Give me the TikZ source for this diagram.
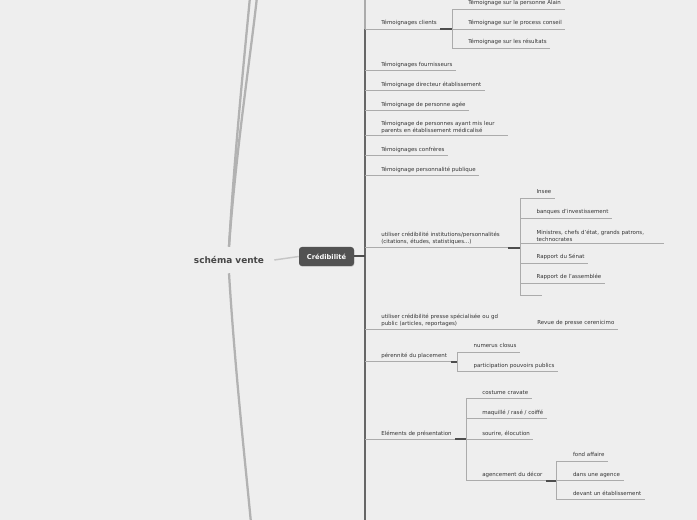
\documentclass[tikz,border=0pt]{standalone}
\usepackage{fontspec}
\setmainfont{DejaVu Sans}
\usetikzlibrary{calc,shadows}
\definecolor{BackClr}{HTML}{EEEEEE}
\definecolor{TextClr}{HTML}{333333}
\definecolor{LineClr}{HTML}{ABABAB}
\definecolor{StubClr}{HTML}{4D4D4D}
\definecolor{SpineClr}{HTML}{666666}
\definecolor{BoxClr}{HTML}{525252}
\definecolor{BranchClr}{HTML}{B2B2B2}
\definecolor{LinkClr}{HTML}{C6C6C6}

\begin{document}
\begin{tikzpicture}[x=0.75pt,y=-0.75pt,
  leaf/.style={anchor=south west,inner xsep=2.5pt,inner ysep=1.9pt,text depth=1.2pt,
    text=TextClr,font=\fontsize{4.1}{5.25}\selectfont},
  wideleaf/.style={anchor=south west,inner xsep=2.5pt,inner ysep=1.9pt,text width=92.5pt,
    align=left,text=TextClr,font=\fontsize{4.1}{5.25}\selectfont},
  uline/.style={LineClr,line width=0.75pt},
  stub/.style={StubClr,line width=1.5pt},
  branch/.style={BranchClr,line width=1.7pt}]

\useasboundingbox (0,0) rectangle (697,520);
\fill[BackClr] (0,0) rectangle (697,520);

\node[text=TextClr!90!white,font=\fontsize{6.7}{8}\bfseries,inner xsep=7.5pt,minimum height=19.5pt] (vente) at (229,260) {schéma vente};
\node[fill=BoxClr,text=white,font=\fontsize{5}{6}\bfseries,rounded corners=2.2pt,
  minimum width=41.25pt,minimum height=14.25pt,
  drop shadow={shadow xshift=0.3pt,shadow yshift=-0.6pt,opacity=0.3}] (cred) at (326.5,256.5) {Crédibilité};

\coordinate (hautA) at (250,-3);
\coordinate (hautB) at (257,-3);
\coordinate (bas) at (251,523);
\draw[branch] (vente.north) .. controls (234,160) and (244,60) .. (hautA);
\draw[branch] (vente.north) .. controls (236,150) and (250,60) .. (hautB);
\draw[branch] (vente.south) .. controls (235,370) and (245,460) .. (bas);
\draw[LinkClr,line width=1.1pt] (vente.east) -- (cred.west);

\node[leaf] (clients) at (377.7,29.3) {Témoignages clients};
\node[leaf] (fourn) at (377.7,71) {Témoignages fournisseurs};
\node[leaf] (directeur) at (377.7,91) {Témoignage directeur établissement};
\node[leaf] (agee) at (377.7,110.7) {Témoignage de personne agée};
\node[wideleaf] (parents) at (377.7,136) {Témoignage de personnes ayant mis leur\\parents en établissement médicalisé};
\node[leaf] (confreres) at (377.7,156) {Témoignages confrères};
\node[leaf] (publique) at (377.7,175.7) {Témoignage personnalité publique};
\node[wideleaf] (institutions) at (377.7,247.7) {utiliser crédibilité institutions/personnalités\\(citations, études, statistiques...)};
\node[wideleaf] (presse) at (377.7,329.3) {utiliser crédibilité presse spécialisée ou gd\\public (articles, reportages)};
\node[leaf] (perennite) at (377.7,361.7) {pérennité du placement};
\node[leaf] (elements) at (377.7,439.5) {Eléments de présentation};

\node[leaf] (alain) at (464.7,9.3) {Témoignage sur la personne Alain};
\node[leaf] (process) at (464.7,29.3) {Témoignage sur le process conseil};
\node[leaf] (resultats) at (464.7,48.3) {Témoignage sur les résultats};

\node[leaf] (insee) at (533,198.3) {Insee};
\node[leaf] (banques) at (533,218.3) {banques d'investissement};
\node[wideleaf] (ministres) at (533,244) {Ministres, chefs d'état, grands patrons,\\technocrates};
\node[leaf] (senat) at (533,263.3) {Rapport du Sénat};
\node[leaf] (assemblee) at (533,283.3) {Rapport de l'assemblée};
\coordinate (vide) at (541.7,296);

\node[leaf] (revue) at (533.7,329.3) {Revue de presse cerenicimo};

\node[leaf] (numerus) at (470,352.3) {numerus closus};
\node[leaf] (participation) at (470,372) {participation pouvoirs publics};

\node[leaf] (costume) at (478.7,399) {costume cravate};
\node[leaf] (maquille) at (478.7,419) {maquillé / rasé / coiffé};
\node[leaf] (sourire) at (478.7,439.5) {sourire, élocution};
\node[leaf] (decor) at (478.7,480.7) {agencement du décor};

\node[leaf] (fond) at (569.4,461.3) {fond affaire};
\node[leaf] (agence) at (569.4,480.7) {dans une agence};
\node[leaf] (devant) at (569.4,500) {devant un établissement};

\coordinate (spine) at (365,0);
\coordinate (spineB) at (365,521);
\coordinate (clientsF) at (452,0);
\coordinate (institutionsF) at (520.3,0);
\coordinate (perenniteF) at (457.3,0);
\coordinate (elementsF) at (466,0);
\coordinate (decorF) at (556.7,0);

\draw[LineClr,line width=1pt] (spine) -- (spine |- clients.south);
\draw[SpineClr,line width=1pt] (spine |- clients.south) -- (spineB);
\draw[stub] (cred.east) -- (cred.east -| spine);

\draw[uline] (spine |- clients.south) -- (clients.south east);
\draw[uline] (spine |- fourn.south) -- (fourn.south east);
\draw[uline] (spine |- directeur.south) -- (directeur.south east);
\draw[uline] (spine |- agee.south) -- (agee.south east);
\draw[uline] (spine |- parents.south) -- (parents.south east);
\draw[uline] (spine |- confreres.south) -- (confreres.south east);
\draw[uline] (spine |- publique.south) -- (publique.south east);
\draw[uline] (spine |- institutions.south) -- (institutions.south east);
\draw[uline] (spine |- presse.south) -- (presse.south east);
\draw[uline] (spine |- perennite.south) -- (perennite.south east);
\draw[uline] (spine |- elements.south) -- (elements.south east);

\draw[stub] (clients.south east) -- (clientsF |- clients.south);
\draw[uline] (clientsF |- alain.south) -- (clientsF |- resultats.south);
\draw[uline] (clientsF |- alain.south) -- (alain.south east);
\draw[uline] (clientsF |- process.south) -- (process.south east);
\draw[uline] (clientsF |- resultats.south) -- (resultats.south east);

\draw[stub] (institutions.south east) -- (institutionsF |- institutions.south);
\draw[uline] (institutionsF |- insee.south) -- (institutionsF |- vide);
\draw[uline] (institutionsF |- insee.south) -- (insee.south east);
\draw[uline] (institutionsF |- banques.south) -- (banques.south east);
\draw[uline] (institutionsF |- ministres.south) -- (ministres.south east);
\draw[uline] (institutionsF |- senat.south) -- (senat.south east);
\draw[uline] (institutionsF |- assemblee.south) -- (assemblee.south east);
\draw[uline] (institutionsF |- vide) -- (vide);

\draw[uline] (presse.south east) -- (revue.south east);

\draw[stub] (perennite.south east) -- (perenniteF |- perennite.south);
\draw[uline] (perenniteF |- numerus.south) -- (perenniteF |- participation.south);
\draw[uline] (perenniteF |- numerus.south) -- (numerus.south east);
\draw[uline] (perenniteF |- participation.south) -- (participation.south east);

\draw[stub] (elements.south east) -- (elementsF |- elements.south);
\draw[uline] (elementsF |- costume.south) -- (elementsF |- decor.south);
\draw[uline] (elementsF |- costume.south) -- (costume.south east);
\draw[uline] (elementsF |- maquille.south) -- (maquille.south east);
\draw[uline] (elementsF |- sourire.south) -- (sourire.south east);
\draw[uline] (elementsF |- decor.south) -- (decor.south east);

\draw[stub] (decor.south east) -- (decorF |- decor.south);
\draw[uline] (decorF |- fond.south) -- (decorF |- devant.south);
\draw[uline] (decorF |- fond.south) -- (fond.south east);
\draw[uline] (decorF |- agence.south) -- (agence.south east);
\draw[uline] (decorF |- devant.south) -- (devant.south east);

\end{tikzpicture}
\end{document}
